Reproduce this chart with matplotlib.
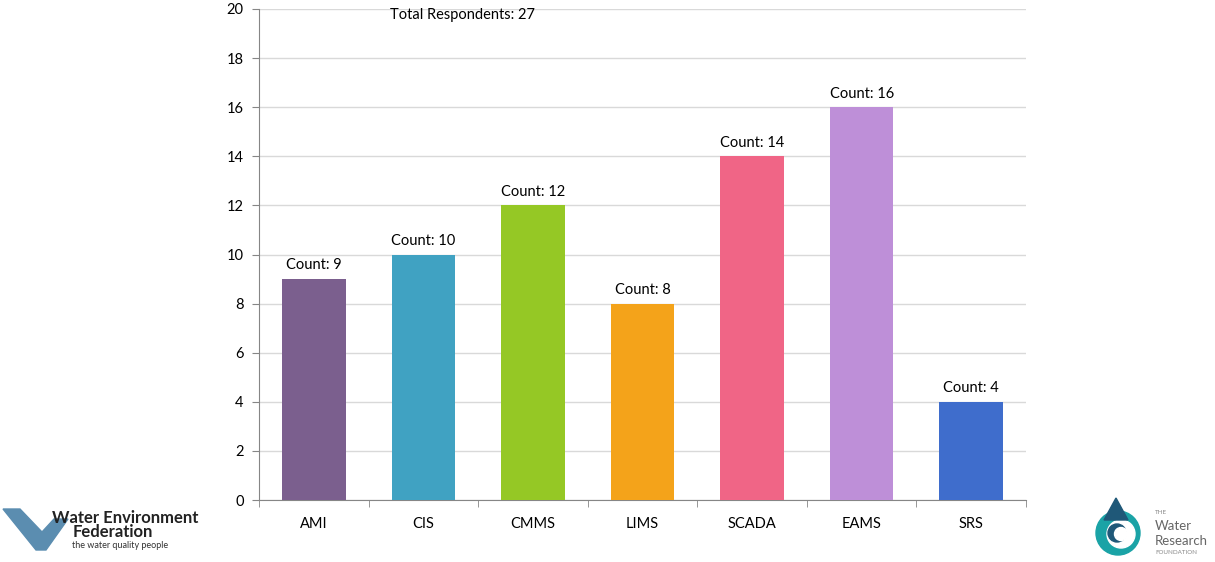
import matplotlib
matplotlib.use("Agg")
import matplotlib.pyplot as plt
import numpy as np
from matplotlib.patches import Polygon, Circle

categories = ["AMI", "CIS", "CMMS", "LIMS", "SCADA", "EAMS", "SRS"]
counts = [9, 10, 12, 8, 14, 16, 4]
colors = ["#7B5F8E", "#40A2C2", "#95C825", "#F4A31A", "#F06586", "#BE8FD8", "#3F6DCC"]
yticks = [0, 2, 4, 6, 8, 10, 12, 14, 16, 18, 20]
total_label = "Total Respondents: 27"

plt.rcParams['font.family'] = ['Lato', 'DejaVu Sans']

fig = plt.figure(figsize=(12.15, 5.62), dpi=100)
ax = fig.add_axes([259/1215, 1-500/562, 767/1215, 491/562])

x = np.arange(len(categories))
ax.bar(x, counts, width=0.58, color=colors, zorder=3)
for xi, c in zip(x, counts):
    ax.text(xi, c + 0.27, f"Count: {c}", ha="center", va="bottom", fontsize=10.5, color="#000000")

ax.set_xlim(-0.5, len(categories) - 0.5)
ax.set_ylim(0, 20)
ax.set_yticks(yticks)
ax.set_yticklabels([str(t) for t in yticks], fontsize=10.5)
ax.set_xticks(x)
ax.set_xticklabels(categories, fontsize=10.5)
ax.tick_params(axis="x", length=0, pad=12)
ax.set_xticks(np.arange(-0.5, len(categories), 1.0), minor=True)
ax.tick_params(axis="x", which="minor", length=5, color="#868686")
ax.tick_params(axis="y", length=5, color="#868686", pad=6)
ax.grid(axis="y", color="#D9D9D9", linewidth=1, zorder=0)
for s in ["top", "right"]:
    ax.spines[s].set_visible(False)
for s in ["left", "bottom"]:
    ax.spines[s].set_color("#868686")

ax.text(0.265, 1.003, total_label, transform=ax.transAxes, ha="center", va="top", fontsize=10.5)

# Water Environment Federation logo (approximation)
la = fig.add_axes([0, 0, 1, 1], facecolor="none")
la.set_xlim(0, 1215)
la.set_ylim(562, 0)
la.axis("off")
la.add_patch(Polygon([[3, 509], [20, 509], [42, 532], [54, 519], [68, 519], [46, 550], [36, 550]],
                     closed=True, color="#5B8DB0"))
la.text(52, 518, "Water Environment", fontsize=12, fontweight="bold", ha="left", va="center", color="#222222")
la.text(73, 532, "Federation", fontsize=12, fontweight="bold", ha="left", va="center", color="#222222")
la.text(72, 546, "the water quality people", fontsize=6.5, ha="left", va="center", color="#333333")

# Water Research Foundation logo (approximation)
la.add_patch(Circle((1118, 533), 22, color="#1AA3A6"))
la.add_patch(Circle((1121, 534), 14, color="white"))
la.add_patch(Polygon([[1116, 498], [1104, 520], [1128, 520]], closed=True, color="#1F5878"))
la.add_patch(Circle((1117, 533), 9, color="#1F5878"))
la.add_patch(Circle((1121, 534), 6.5, color="white"))
la.text(1155, 513, "THE", fontsize=4.5, color="#888888", ha="left", va="center")
la.text(1155, 526, "Water", fontsize=9.5, color="#666666", ha="left", va="center")
la.text(1155, 541, "Research", fontsize=9.5, color="#666666", ha="left", va="center")
la.text(1155, 553, "FOUNDATION", fontsize=4.5, color="#888888", ha="left", va="center")

fig.savefig("out.png", dpi=100)
